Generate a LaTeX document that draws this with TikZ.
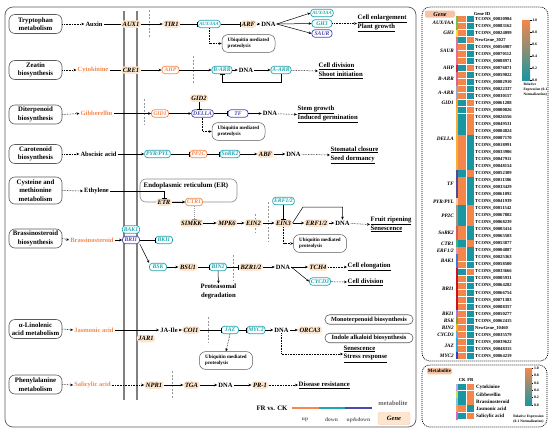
\documentclass[tikz,border=0pt]{standalone}
\usepackage{fontspec}
\setmainfont{Liberation Serif}
\usetikzlibrary{arrows.meta}
\definecolor{orangeA}{RGB}{245,135,75}
\definecolor{tealA}{RGB}{30,165,175}
\definecolor{blueA}{RGB}{75,75,170}
\definecolor{peach}{RGB}{253,230,205}
\definecolor{salmon}{RGB}{247,195,165}
\definecolor{hmO}{RGB}{243,135,75}
\definecolor{hmT}{RGB}{25,150,162}
\definecolor{hmM}{RGB}{205,192,180}
\definecolor{frame}{RGB}{90,90,90}
\definecolor{dashg}{RGB}{150,150,150}
\definecolor{cA}{RGB}{120,190,70}
\definecolor{cB}{RGB}{240,220,60}
\definecolor{cC}{RGB}{230,110,150}
\definecolor{cD}{RGB}{210,30,60}
\definecolor{cE}{RGB}{220,100,140}
\definecolor{cF}{RGB}{170,160,190}
\definecolor{cG}{RGB}{245,160,40}
\definecolor{cH}{RGB}{245,175,50}
\definecolor{cI}{RGB}{90,70,150}
\definecolor{cJ}{RGB}{250,200,160}
\definecolor{cK}{RGB}{150,150,130}
\definecolor{cL}{RGB}{220,90,90}
\definecolor{cM}{RGB}{60,180,120}
\definecolor{cN}{RGB}{240,140,170}
\definecolor{cO}{RGB}{60,120,210}
\definecolor{cP}{RGB}{200,20,30}
\definecolor{cQ}{RGB}{150,130,210}
\definecolor{cR}{RGB}{140,150,60}
\definecolor{cS}{RGB}{230,180,40}
\definecolor{cT}{RGB}{100,170,230}
\definecolor{cU}{RGB}{40,170,230}
\definecolor{cV}{RGB}{50,60,200}
\definecolor{mA}{RGB}{190,170,220}
\definecolor{mB}{RGB}{200,220,100}
\definecolor{mC}{RGB}{120,200,230}
\definecolor{mD}{RGB}{245,160,90}
\definecolor{mE}{RGB}{220,100,200}
\tikzset{
 gbase/.style={rounded corners=3pt, inner xsep=1.5pt, inner ysep=0pt, minimum height=7.5pt, font=\bfseries\itshape\fontsize{6.5}{6.5}\selectfont},
 gP/.style={gbase, fill=peach},
 gT/.style={gbase, draw=tealA, text=tealA, fill=white, line width=0.7pt, font=\bfseries\itshape\fontsize{5.7}{5.7}\selectfont, minimum width=17pt},
 gO/.style={gT, draw=orangeA, text=orangeA},
 gB/.style={gT, draw=blueA, text=blueA},
 pbox/.style={draw=frame, rounded corners=6pt, line width=0.6pt, font=\bfseries\fontsize{6.8}{8.5}\selectfont, align=center, minimum width=53pt, minimum height=19pt, inner sep=1pt, fill=white},
 met/.style={font=\bfseries\fontsize{6.5}{6.5}\selectfont, inner sep=1pt},
 metO/.style={met, text=orangeA},
 ubox/.style={draw=frame, rounded corners=6pt, line width=0.5pt, fill=white, font=\bfseries\fontsize{5}{6.5}\selectfont, align=left, minimum width=53pt, minimum height=16pt, inner xsep=3pt},
 mbox/.style={draw=frame, rounded corners=4.5pt, line width=0.6pt, font=\bfseries\fontsize{6.3}{6.3}\selectfont, minimum width=88pt, minimum height=9.5pt, inner sep=0.5pt},
 res/.style={anchor=west, align=left, font=\bfseries\fontsize{6.7}{8.8}\selectfont, inner sep=0.5pt},
 arr/.style={-{Stealth[length=3pt,width=2.6pt]}, line width=0.5pt},
 darr/.style={arr, dash pattern=on 0.7pt off 0.9pt},
 inh/.style={-{Bar[width=5pt]}, line width=0.5pt},
 dv/.style={dashg, line width=0.7pt, dash pattern=on 2pt off 1.5pt},
 memb/.style={gray, line width=1.3pt},
 glab/.style={anchor=east, inner sep=0.5pt, font=\bfseries\itshape\fontsize{5.2}{5.2}\selectfont},
 idlab/.style={anchor=west, inner sep=0pt, font=\bfseries\fontsize{4.6}{4.6}\selectfont},
 tinyf/.style={font=\bfseries\fontsize{3.8}{3.8}\selectfont, inner sep=0.3pt},
 keytxt/.style={font=\bfseries\fontsize{5.5}{5.5}\selectfont, inner sep=0.5pt},
}
\newcommand\hmgrp[4]{\fill[#3] (455.8,{15.5+7.02*#1}) rectangle (458.2,{15.5+7.02*(#2+1)});
 \node[glab] (gl#1) at (454.5,{15.5+7.02*(#1+#2+1)/2}) {#4};}
\newcommand\hmrow[4]{\fill[hm#3] (458.4,{15.5+7.02*#1+0.3}) rectangle (466,{15.5+7.02*(#1+1)-0.3});
 \fill[hm#4] (466.6,{15.5+7.02*#1+0.3}) rectangle (474.2,{15.5+7.02*(#1+1)-0.3});
 \node[idlab] (id#1) at (475,{15.5+7.02*(#1+0.5)}) {#2};}
\newcommand\mtrow[5]{\fill[#3] (455.8,{383.5+7.2*#1}) rectangle (458.2,{383.5+7.2*(#1+1)});
 \fill[hm#4] (458.4,{383.5+7.2*#1+0.3}) rectangle (466,{383.5+7.2*(#1+1)-0.3});
 \fill[hm#5] (466.6,{383.5+7.2*#1+0.3}) rectangle (474.2,{383.5+7.2*(#1+1)-0.3});
 \node[anchor=west, inner sep=0pt, font=\bfseries\fontsize{5}{5}\selectfont] (mt#1) at (476,{383.5+7.2*(#1+0.5)}) {#2};}
\begin{document}
\begin{tikzpicture}[x=1pt,y=-1pt]
\useasboundingbox (0,0) rectangle (550,432);
\draw[frame, line width=0.7pt, rounded corners=8pt] (5,7) rectangle (416,427);
% membranes
\draw[memb] (124,11) -- (124,400);
\draw[memb] (137,11) -- (137,400);
% dashed verticals
\draw[dv] (149,10) -- (149,38);
\draw[dv] (193,56) -- (193,83);
\draw[dv] (144,99) -- (144,125);
\draw[dv] (255,214) -- (255,233);
\draw[dv] (268,202) -- (268,242);
\draw[dv] (233,255) -- (233,281);
\draw[dv] (208,317) -- (208,343);
\draw[dv] (172,371) -- (172,399);
% ER
\draw[frame!70, line width=0.6pt, rounded corners=6pt] (140,179) rectangle (237,202);
\node[font=\bfseries\fontsize{6.9}{6.9}\selectfont, inner sep=0.5pt] (er) at (186,186) {Endoplasmic reticulum (ER)};

% pathway boxes
\node[pbox] (p1) at (35.5,24) {Tryptophan\\metabolism};
\node[pbox] (p2) at (35.5,70) {Zeatin\\biosynthesis};
\node[pbox] (p3) at (35.5,114.5) {Diterpenoid\\biosynthesis};
\node[pbox] (p4) at (35.5,154) {Carotenoid\\biosynthesis};
\node[pbox, minimum height=27pt] (p5) at (35.5,190.5) {Cysteine and\\methionine\\metabolism};
\node[pbox] (p6) at (35.5,238.5) {Brassinosteroid\\biosynthesis};
\node[pbox] (p7) at (35.5,329) {α-Linolenic\\acid metabolism};
\node[pbox] (p8) at (35.5,384.5) {Phenylalanine\\metabolism};

% metabolites
\node[met] (auxin) at (94,24) {Auxin};
\node[metO] (cyto) at (93,70) {Cytokinine};
\node[metO] (gib) at (96.5,113.5) {Gibberellin};
\node[met] (aba) at (98.5,154) {Abscisic acid};
\node[met] (eth) at (96.5,191) {Ethylene};
\node[metO] (brs) at (92,240) {Brassinosteroid};
\node[metO] (ja) at (94,330) {Jasmonic acid};
\node[metO] (sa) at (92.5,385) {Salicylic acid};
\foreach \a/\b in {p1/auxin,p2/cyto,p3/gib,p4/aba,p5/eth,p6/brs,p7/ja,p8/sa}
  \draw[darr] (\a.east) -- (\b.west);

% ---- row 1 auxin
\node[gP] (aux1) at (131,24) {AUX1};
\node[gP] (tir1) at (171.5,24) {TIR1};
\node[gT, font=\bfseries\itshape\fontsize{4.8}{4.8}\selectfont] (auxiaa) at (209,24) {AUX/IAA};
\node[gP] (arf) at (248.5,24) {ARF};
\node[met] (dna1) at (268.5,24) {DNA};
\node[gT, font=\bfseries\itshape\fontsize{4.8}{4.8}\selectfont] (aux2) at (322,13) {AUX/IAA};
\node[gT, minimum width=20pt] (gh3) at (322,23.5) {GH3};
\node[gB, minimum width=20pt] (saur) at (322,33.5) {SAUR};
\node[res] (r1) at (357,23.5) {\underline{Cell enlargement}\\\underline{Plant growth}};
\node[ubox] (ub1) at (248.5,43.5) {Ubiquitin mediated\\proteolysis};
\draw[line width=0.5pt] (auxin) -- (aux1);
\draw[arr] (aux1) -- (tir1);
\draw[inh] (tir1) -- (auxiaa);
\draw[inh] (auxiaa) -- (arf);
\draw[arr] (arf) -- (dna1);
\draw[arr] (dna1.east) -- (aux2.west);
\draw[arr] (dna1.east) -- (gh3.west);
\draw[arr] (dna1.east) -- (saur.west);
\draw[darr] (gh3.east) -- (r1.west);
\draw[darr] (auxiaa.south) |- (ub1.west);

% ---- row 2 cytokinin
\node[gP] (cre1) at (131,70) {CRE1};
\node[gO] (ahp) at (170.5,70) {AHP};
\node[gT] (barr) at (222,70) {B-ARR};
\node[met] (dna2) at (246,70) {DNA};
\node[gT] (aarr) at (281,70) {A-ARR};
\node[res] (r2) at (318,71) {\underline{Cell division}\\\underline{Shoot initiation}};
\draw[line width=0.5pt] (cyto) -- (cre1);
\draw[arr] (cre1) -- (ahp);
\draw[arr] (ahp) -- (barr);
\draw[arr] (barr) -- (dna2);
\draw[arr] (dna2) -- (aarr);
\draw[darr] (aarr) -- (r2.west);
\draw[inh] (aarr.south) -- ++(0,8) -| (barr.south);

% ---- row 3 gibberellin
\node[gO] (gid1) at (160,113.5) {GID1};
\node[gP] (gid2) at (199,98) {GID2};
\node[gB] (della) at (202.5,113.5) {DELLA};
\node[gB, minimum width=20pt] (tf) at (238,113.5) {TF};
\node[met] (dna3) at (270,113.5) {DNA};
\node[res] (r3) at (297,114.5) {\underline{Stem growth}\\\underline{Induced germination}};
\node[ubox] (ub2) at (238.5,131.5) {Ubiquitin mediated\\proteolysis};
\draw[arr] (gib) -- (gid1);
\draw[arr] (gid1) -- (della);
\draw[inh] (gid2.south) -- (gid2.south |- della.north);
\draw[inh] (della) -- (tf);
\draw[arr] (tf) -- (dna3);
\draw[darr] (dna3) -- (r3.west);
\draw[darr] (della.south) |- (ub2.west);

% ---- row 4 ABA
\node[gT] (pyr) at (157.5,154) {PYR/PYL};
\node[gO] (pp2c) at (198.5,154) {PP2C};
\node[gT] (snrk2) at (230,154) {SnRK2};
\node[gP] (abf) at (265.5,154) {ABF};
\node[met] (dna4) at (293.5,154) {DNA};
\node[res] (r4) at (330,155) {\underline{Stomatal closure}\\\underline{Seed dormancy}};
\draw[arr] (aba) -- (pyr);
\draw[inh] (pyr) -- (pp2c);
\draw[inh] (pp2c) -- (snrk2);
\draw[arr] (snrk2) -- (abf);
\draw[arr] (abf) -- (dna4);
\draw[darr] (dna4) -- (r4.west);

% ---- row 5 ethylene
\node[gP] (etr) at (164,202) {ETR};
\node[gO] (ctr1) at (194,202) {CTR1};
\node[gP] (simkk) at (191.5,223) {SIMKK};
\node[gP] (mpk6) at (227,223) {MPK6};
\node[gP] (ein2) at (253.5,223) {EIN2};
\node[gP] (ein3) at (283.5,223) {EIN3};
\node[gT] (erft) at (283.5,201) {ERF1/2};
\node[gP] (erfp) at (316.5,223) {ERF1/2};
\node[met] (dna5) at (342.5,223) {DNA};
\node[res] (r5) at (370,224.5) {\underline{Fruit ripening}\\\underline{Senescence}};
\node[ubox] (ub3) at (320,243.5) {Ubiquitin mediated\\proteolysis};
\draw[inh] (eth.east) -| (etr.north);
\draw[arr] (etr) -- (ctr1);
\draw[inh, dashg, dash pattern=on 1pt off 1pt] (ctr1.south) -- (ctr1.south |- simkk.north);
\draw[arr] (simkk) -- (mpk6);
\draw[arr] (mpk6) -- (ein2);
\draw[arr] (ein2) -- (ein3);
\draw[inh] (erft.south) -- (ein3.north);
\draw[arr] (ein3) -- (erfp);
\draw[arr] (erfp) -- (dna5);
\draw[darr] (dna5) -- (r5.west);
\draw[arr] (ein3.east) -- (303,207) -| (dna5.north);
\draw[darr] (ein3.south) |- (ub3.west);

% ---- row 6 brassinosteroid
\node[gT] (bak1) at (131,229.5) {BAK1};
\node[gB] (bri1) at (131,240) {BRI1};
\node[gT] (bki1) at (164,240) {BKI1};
\node[gT] (bsk) at (158,267) {BSK};
\node[gP] (bsu1) at (188,267) {BSU1};
\node[gT] (bin2) at (218,267) {BIN2};
\node[gP] (bzr) at (251,267) {BZR1/2};
\node[met] (dna6) at (283,267) {DNA};
\node[gP] (tch4) at (318,267) {TCH4};
\node[gT] (cycd3) at (320,281.5) {CYCD3};
\node[res] (r6a) at (347,267) {\underline{Cell elongation}};
\node[res] (r6b) at (347,282) {\underline{Cell division}};
\node[font=\bfseries\fontsize{6.7}{8.5}\selectfont, align=center, inner sep=0.5pt] (prot) at (218.5,291.5) {Proteasomal\\degradation};
\draw[arr] (brs) -- (bri1);
\draw[inh] (bri1) -- (bki1);
\draw[arr] (bri1.south east) -- (bsk.north west);
\draw[arr] (bsk) -- (bsu1);
\draw[inh] (bsu1) -- (bin2);
\draw[inh] (bin2) -- (bzr);
\draw[arr] (bin2.south) -- (prot.north);
\draw[arr] (bzr) -- (dna6);
\draw[arr] (dna6.east) -- (tch4.west);
\draw[arr] (dna6.east) -- (cycd3.west);
\draw[darr] (tch4) -- (r6a.west);
\draw[darr] (cycd3) -- (r6b.west);

% ---- row 7 jasmonic acid
\node[met] (jaile) at (169,330) {JA-Ile};
\node[gP] (jar1) at (146,338.5) {JAR1};
\node[gP] (coi1) at (191,330) {COI1};
\node[gT] (jaz) at (230,330) {JAZ};
\node[gT] (myc2) at (256,330) {MYC2};
\node[met] (dna7) at (281.5,330) {DNA};
\node[gP] (orca3) at (310,330) {ORCA3};
\node[mbox] (mono) at (369,319.5) {Monoterpenoid biosynthesis};
\node[mbox] (indo) at (369,338) {Indole alkaloid biosynthesis};
\node[res] (r7) at (343,354) {\underline{Senescence}\\\underline{Stress response}};
\node[ubox] (ub4) at (226,360.5) {Ubiquitin mediated\\proteolysis};
\draw[arr] (ja) -- (jaile);
\draw[arr] (jaile) -- (coi1);
\draw[inh] (coi1) -- (jaz);
\draw[inh] (jaz) -- (myc2);
\draw[arr] (myc2) -- (dna7);
\draw[arr] (dna7) -- (orca3);
\draw[darr] (dna7.south) |- (r7.west);
\draw[darr] (jaz.south) -- (ub4.north);

% ---- row 8 salicylic acid
\node[gP] (npr1) at (154,385) {NPR1};
\node[gP] (tga) at (191.5,385) {TGA};
\node[met] (dna8) at (225.5,385) {DNA};
\node[gP] (pr1) at (260,385) {PR-1};
\node[res] (r8) at (298,385) {\underline{Disease resistance}};
\draw[darr] (sa) -- (npr1);
\draw[arr] (npr1) -- (tga);
\draw[arr] (tga) -- (dna8);
\draw[arr] (dna8) -- (pr1);
\draw[darr] (pr1) -- (r8.west);

% ---- legend
\node[font=\bfseries\fontsize{6.8}{6.8}\selectfont, inner sep=0.5pt] (frck) at (272,408) {FR vs. CK};
\coordinate (l0) at (292,408);
\coordinate (l1) at (318.5,408);
\coordinate (l2) at (345,408);
\coordinate (l3) at (372,408);
\draw[orangeA, line width=1.3pt] (l0) -- (l1);
\draw[tealA, line width=1.3pt] (l1) -- (l2);
\draw[blueA, line width=1.3pt] (l2) -- (l3);
\node[keytxt, text=gray!80!black] (kup) at (305,420) {up};
\node[keytxt, text=gray!80!black] (kdown) at (331.5,420) {down};
\node[keytxt, text=gray!80!black] (kud) at (358.5,420) {up\&down};
\node[font=\bfseries\fontsize{6.5}{6.5}\selectfont, text=gray!80!black, inner sep=0.5pt] (kmet) at (393,403) {metabolite};
\node[draw=salmon, fill=peach, rounded corners=2pt, minimum width=32pt, minimum height=12pt, inner sep=0.5pt, font=\bfseries\itshape\fontsize{6.5}{6.5}\selectfont] (kgene) at (394,418.5) {Gene};

% ---- gene heatmap panel
\draw[line width=0.7pt, dash pattern=on 1pt off 1pt, rounded corners=8pt] (422,7) rectangle (548,361);
\node[fill=salmon, rounded corners=1.5pt, minimum width=30pt, minimum height=7pt, inner sep=0pt, font=\bfseries\itshape\fontsize{6.2}{6.2}\selectfont] (genelab) at (440,14) {Gene};
\node[font=\bfseries\fontsize{4.6}{4.6}\selectfont, inner sep=0pt] (geneid) at (482,13.5) {Gene ID};
\hmgrp{0}{1}{cA}{AUX/IAA}
\hmgrp{2}{2}{cB}{GH3}
\hmgrp{3}{6}{cC}{SAUR}
\hmgrp{7}{7}{cD}{AHP}
\hmgrp{8}{9}{cE}{B-ARR}
\hmgrp{10}{11}{cF}{A-ARR}
\hmgrp{12}{12}{cG}{GID1}
\hmgrp{13}{21}{cH}{DELLA}
\hmgrp{22}{25}{cI}{TF}
\hmgrp{26}{26}{cJ}{PYR/PYL}
\hmgrp{27}{29}{cK}{PP2C}
\hmgrp{30}{31}{cL}{SnRK2}
\hmgrp{32}{32}{cM}{CTR1}
\hmgrp{33}{33}{cN}{ERF1/2}
\hmgrp{34}{35}{cO}{BAK1}
\hmgrp{36}{41}{cP}{BRI1}
\hmgrp{42}{42}{cQ}{BKI1}
\hmgrp{43}{43}{cR}{BSK}
\hmgrp{44}{44}{cS}{BIN2}
\hmgrp{45}{45}{cT}{CYCD3}
\hmgrp{46}{47}{cU}{JAZ}
\hmgrp{48}{48}{cV}{MYC2}
\hmrow{0}{TCONS\_00010984}{O}{T}
\hmrow{1}{TCONS\_00083162}{O}{T}
\hmrow{2}{TCONS\_00024099}{O}{T}
\hmrow{3}{NewGene\_3027}{T}{O}
\hmrow{4}{TCONS\_00056907}{O}{T}
\hmrow{5}{TCONS\_00070112}{O}{T}
\hmrow{6}{TCONS\_00088971}{O}{T}
\hmrow{7}{TCONS\_00076871}{T}{O}
\hmrow{8}{TCONS\_00059022}{O}{T}
\hmrow{9}{TCONS\_00082910}{O}{T}
\hmrow{10}{TCONS\_00022337}{O}{T}
\hmrow{11}{TCONS\_00030157}{O}{T}
\hmrow{12}{TCONS\_00061288}{T}{O}
\hmrow{13}{TCONS\_00000826}{T}{O}
\hmrow{14}{TCONS\_00026556}{T}{O}
\hmrow{15}{TCONS\_00049531}{T}{O}
\hmrow{16}{TCONS\_00084824}{T}{O}
\hmrow{17}{TCONS\_00087170}{O}{T}
\hmrow{18}{TCONS\_00018991}{O}{T}
\hmrow{19}{TCONS\_00033906}{O}{T}
\hmrow{20}{TCONS\_00047911}{O}{T}
\hmrow{21}{TCONS\_00048154}{O}{T}
\hmrow{22}{TCONS\_00052309}{T}{O}
\hmrow{23}{TCONS\_00011386}{O}{T}
\hmrow{24}{TCONS\_00033429}{O}{T}
\hmrow{25}{TCONS\_00061092}{O}{T}
\hmrow{26}{TCONS\_00041939}{O}{T}
\hmrow{27}{TCONS\_00011542}{T}{O}
\hmrow{28}{TCONS\_00067802}{T}{O}
\hmrow{29}{TCONS\_00068239}{T}{O}
\hmrow{30}{TCONS\_00003414}{O}{T}
\hmrow{31}{TCONS\_00065503}{O}{T}
\hmrow{32}{TCONS\_00053877}{T}{O}
\hmrow{33}{TCONS\_00004887}{O}{T}
\hmrow{34}{TCONS\_00025363}{O}{T}
\hmrow{35}{TCONS\_00058500}{O}{T}
\hmrow{36}{TCONS\_00033666}{T}{O}
\hmrow{37}{TCONS\_00005931}{O}{T}
\hmrow{38}{TCONS\_00064282}{O}{T}
\hmrow{39}{TCONS\_00066754}{O}{T}
\hmrow{40}{TCONS\_00071383}{O}{T}
\hmrow{41}{TCONS\_00088357}{O}{T}
\hmrow{42}{TCONS\_00050277}{O}{T}
\hmrow{43}{TCONS\_00062415}{O}{T}
\hmrow{44}{NewGene\_10460}{O}{T}
\hmrow{45}{TCONS\_00035579}{O}{T}
\hmrow{46}{TCONS\_00039622}{O}{T}
\hmrow{47}{TCONS\_00048315}{O}{T}
\hmrow{48}{TCONS\_00064219}{O}{T}
% colour bar 1
\shade[top color=hmO, middle color=hmM, bottom color=hmT] (522,20) rectangle (530,80);
\foreach \v/\yy in {1.0/20,0.8/32,0.6/44,0.4/56,0.2/68,0.0/80}{
  \draw[line width=0.3pt] (530,\yy) -- (531.5,\yy);
  \node[tinyf, anchor=west] (cb\yy) at (531.8,\yy) {\v};
}
\node[tinyf, anchor=north west, align=left, font=\bfseries\fontsize{3.6}{4.8}\selectfont] (cbt) at (523,82.5) {Relative\\Expression (0-1\\Normalization)};

% ---- metabolite panel
\draw[line width=0.7pt, dash pattern=on 1pt off 1pt, rounded corners=8pt] (422,365) rectangle (547,427);
\node[fill=salmon, rounded corners=1.5pt, minimum width=25pt, minimum height=6.5pt, inner sep=0pt, font=\bfseries\fontsize{5}{5}\selectfont] (metlab) at (439.5,371) {Metabolite};
\node[font=\bfseries\fontsize{4.6}{4.6}\selectfont, inner sep=0pt] (hck) at (462.2,380) {CK};
\node[font=\bfseries\fontsize{4.6}{4.6}\selectfont, inner sep=0pt] (hfr) at (470.4,380) {FR};
\mtrow{0}{Cytokinine}{mA}{T}{O}
\mtrow{1}{Gibberellin}{mB}{T}{O}
\mtrow{2}{Brassinosteroid}{mC}{T}{O}
\mtrow{3}{Jasmonic acid}{mD}{O}{T}
\mtrow{4}{Salicylic acid}{mE}{T}{O}
\shade[top color=hmO, middle color=hmM, bottom color=hmT] (525,368) rectangle (532,405);
\foreach \v/\yy in {1.0/368,0.8/375.4,0.6/382.8,0.4/390.2,0.2/397.6,0.0/405}{
  \draw[line width=0.3pt] (532,\yy) -- (533.3,\yy);
  \node[tinyf, anchor=west] (mb\yy) at (533.5,\yy) {\v};
}
\node[tinyf, align=center, font=\bfseries\fontsize{3.6}{5}\selectfont] (mbt) at (528.5,419.5) {Relative Expression\\(0-1 Normalization)};
\end{tikzpicture}
\end{document}
